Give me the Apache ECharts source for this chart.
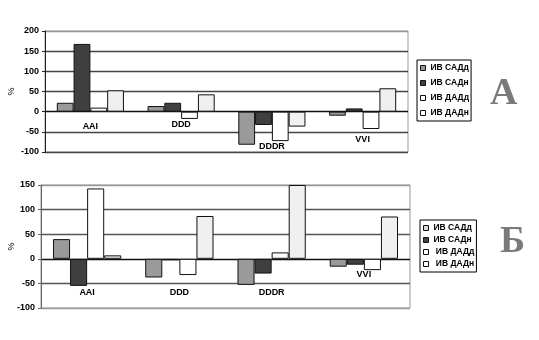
<!DOCTYPE html>
<html>
<head>
<meta charset="utf-8">
<script src="https://cdn.jsdelivr.net/npm/echarts@6/dist/echarts.min.js"></script>
<style>html,body{margin:0;padding:0;background:#fff;}#c{width:539px;height:340px;}</style>
</head>
<body>
<div id="c"></div>
<script>
var categories = ['AAI', 'DDD', 'DDDR', 'VVI'];
var seriesNames = ['ИВ САДд', 'ИВ САДн', 'ИВ ДАДд', 'ИВ ДАДн'];
var seriesNamesB = ['ИВ САДд', 'ИВ САДн', '\u00a0ИВ ДАДд', '\u00a0ИВ ДАДн'];
// Chart A
var topSADd = [22, 14, -82, -10];
var topSADn = [168, 22, -33, 8];
var topDADd = [10, -18, -73, -43];
var topDADn = [53, 43, -37, 58];
// Chart Б
var botSADd = [40, -38, -53, -16];
var botSADn = [-55, -3, -30, -12];
var botDADd = [143, -33, 13, -23];
var botDADn = [7, 87, 150, 86];
var panelLetters = ['А', 'Б'];
var yName = '%';

var fills = ['#9a9a9a', '#404040', '#ffffff', '#f0f0f0'];
var topLabelPad = [6, 4, 26, 19];
var botLabelPad = [25, 25, 25, 7];

function catData(pads) {
  return categories.map(function (c, i) {
    return { value: c, textStyle: { padding: [pads[i], 0, 0, 0] } };
  });
}
function mkSeries(name, data, idx, gi) {
  return {
    name: name, type: 'bar', xAxisIndex: gi, yAxisIndex: gi, data: data,
    barGap: '0%', barCategoryGap: '26%',
    itemStyle: { color: fills[idx], borderColor: '#111', borderWidth: 1 },
    emphasis: { disabled: true }, animation: false
  };
}
var font = 'Liberation Sans, Arial, sans-serif';
function xAx(gi, pads, margin) {
  return {
    type: 'category', gridIndex: gi, data: catData(pads),
    axisLine: { show: false, onZero: false },
    axisTick: { show: false },
    axisLabel: { margin: margin, fontSize: 9, fontWeight: 'bold', color: '#000', fontFamily: font, interval: 0 },
    splitLine: { show: false }
  };
}
function yAx(gi, max, colors, axisColor, gap) {
  return {
    type: 'value', gridIndex: gi, min: -100, max: max, interval: 50,
    name: yName, nameLocation: 'middle', nameRotate: 90, nameGap: gap, nameMoveOverlap: false,
    nameTextStyle: { fontSize: 9, color: '#000', fontFamily: font },
    axisLine: { show: true, lineStyle: { color: axisColor, width: 1 } },
    axisTick: { show: true, length: 3, lineStyle: { color: axisColor } },
    axisLabel: { margin: 6, fontSize: 9, fontWeight: 'bold', color: '#000', fontFamily: font },
    splitLine: { show: true, lineStyle: { color: colors, width: 1.3 } }
  };
}
function legendData(names, iconFills) {
  return names.map(function (n, i) {
    return { name: n, itemStyle: { color: iconFills[i], borderColor: '#111', borderWidth: 1 } };
  });
}

var chart = echarts.init(document.getElementById('c'), null, { renderer: 'canvas' });
chart.setOption({
  animation: false,
  backgroundColor: '#fff',
  title: [
    { text: panelLetters[0], left: 485, top: 70, textStyle: { fontFamily: 'Liberation Serif, Times New Roman, serif', fontWeight: 'bold', fontSize: 38, color: '#7a7a7a' } },
    { text: panelLetters[1], left: 495, top: 218, textStyle: { fontFamily: 'Liberation Serif, Times New Roman, serif', fontWeight: 'bold', fontSize: 38, color: '#7a7a7a' } }
  ],
  legend: [
    {
      data: legendData(seriesNames, ['#9a9a9a', '#404040', '#ffffff', '#ffffff']),
      orient: 'vertical', left: 417, top: 60, padding: [3, 2, 3, 3],
      itemWidth: 5, itemHeight: 5, itemGap: 5, icon: 'rect',
      borderColor: '#000', borderWidth: 1, selectedMode: false,
      textStyle: { fontSize: 8.5, fontWeight: 'bold', color: '#000', fontFamily: font, lineHeight: 10 }
    },
    {
      data: legendData(seriesNamesB, ['#d8d8d8', '#404040', '#ffffff', '#ffffff']),
      orient: 'vertical', left: 420, top: 220, padding: [3, 2, 3, 3],
      itemWidth: 5, itemHeight: 5, itemGap: 2, icon: 'rect',
      borderColor: '#000', borderWidth: 1, selectedMode: false,
      textStyle: { fontSize: 8.5, fontWeight: 'bold', color: '#000', fontFamily: font, lineHeight: 10 }
    }
  ],
  grid: [
    { left: 45, top: 31, width: 363, height: 121, show: true, borderColor: '#999', borderWidth: 1, backgroundColor: '#fff', containLabel: false, outerBoundsMode: 'none' },
    { left: 41, top: 185, width: 369, height: 123, show: true, borderColor: '#999', borderWidth: 1, backgroundColor: '#fff', containLabel: false, outerBoundsMode: 'none' }
  ],
  xAxis: [xAx(0, topLabelPad, -36), xAx(1, botLabelPad, -45)],
  yAxis: [
    yAx(0, 200, ['#444', '#444', '#111', '#444', '#444', '#444', '#999'], '#222', 29),
    yAx(1, 150, ['#999', '#555', '#111', '#555', '#555', '#999'], '#666', 25)
  ],
  series: [
    mkSeries(seriesNames[0], topSADd, 0, 0),
    mkSeries(seriesNames[1], topSADn, 1, 0),
    mkSeries(seriesNames[2], topDADd, 2, 0),
    mkSeries(seriesNames[3], topDADn, 3, 0),
    mkSeries(seriesNamesB[0], botSADd, 0, 1),
    mkSeries(seriesNamesB[1], botSADn, 1, 1),
    mkSeries(seriesNamesB[2], botDADd, 2, 1),
    mkSeries(seriesNamesB[3], botDADn, 3, 1)
  ]
});
</script>
</body>
</html>
